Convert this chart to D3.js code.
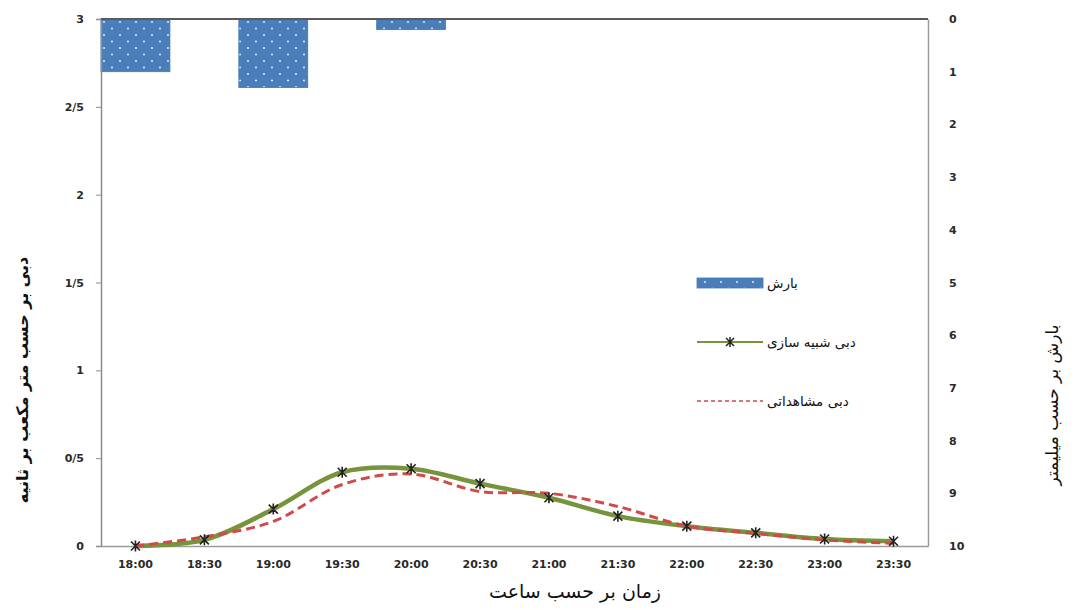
<!DOCTYPE html>
<html>
<head>
<meta charset="utf-8">
<script src="https://cdn.jsdelivr.net/npm/d3@7"></script>
<style>
  body { margin: 0; background: #fff; }
  svg { display: block; font-family: "DejaVu Sans", sans-serif; }
</style>
</head>
<body>
<svg id="canvas" width="1081" height="610"></svg>
<script>
// data
const times = ["18:00", "18:30", "19:00", "19:30", "20:00", "20:30", "21:00", "21:30", "22:00", "22:30", "23:00", "23:30"];
const simulated = [0, 0.035, 0.21, 0.42, 0.44, 0.355, 0.275, 0.17, 0.113, 0.075, 0.04, 0.027];
const observed = [0, 0.052, 0.14, 0.35, 0.41, 0.31, 0.3, 0.225, 0.113, 0.072, 0.035, 0.015];
const rainTimes = ["18:00", "19:00", "20:00"];
const rain = [1.0, 1.3, 0.2];
const flowTicks = [0, 0.5, 1, 1.5, 2, 2.5, 3];
const flowTickLabels = ["0", "0/5", "1", "1/5", "2", "2/5", "3"];
const rainTicks = [0, 1, 2, 3, 4, 5, 6, 7, 8, 9, 10];

const legendLabels = ["بارش", "دبی شبیه سازی", "دبی مشاهداتی"];
const xTitle = "زمان بر حسب ساعت";
const yTitle = "دبی بر حسب متر مکعب بر ثانیه";
const y2Title = "بارش بر حسب میلیمتر";

const svg = d3.select("svg#canvas");
const plot = { left: 101, right: 928, top: 19, bottom: 546 };

const x = d3.scaleBand().domain(times).range([plot.left, plot.right]).padding(0);
const y = d3.scaleLinear().domain([0, 3]).range([plot.bottom, plot.top]);
const y2 = d3.scaleLinear().domain([0, 10]).range([plot.top, plot.bottom]);
const cx = (t) => x(t) + x.bandwidth() / 2;

// dotted fill for rain bars
const defs = svg.append("defs");
const pat = defs.append("pattern")
  .attr("id", "dots")
  .attr("patternUnits", "userSpaceOnUse")
  .attr("width", 16)
  .attr("height", 13)
  .attr("x", plot.left)
  .attr("y", plot.top);
pat.append("rect").attr("width", 16).attr("height", 13).attr("fill", "#4a7ebb");
pat.append("circle").attr("cx", 3).attr("cy", 3).attr("r", 1.1).attr("fill", "#d6e1f0");
pat.append("circle").attr("cx", 11).attr("cy", 9.5).attr("r", 1.1).attr("fill", "#d6e1f0");

// rain bars hanging from the top
svg.append("g")
  .selectAll("rect")
  .data(rainTimes)
  .enter()
  .append("rect")
  .attr("x", (d) => x(d))
  .attr("y", y2(0))
  .attr("width", x.bandwidth())
  .attr("height", (d, i) => y2(rain[i]) - y2(0))
  .attr("fill", "url(#dots)")
  .attr("stroke", "#4577b5")
  .attr("stroke-width", 0.8);

// axes
const yAxis = svg.append("g")
  .attr("transform", `translate(${plot.left},0)`)
  .call(d3.axisLeft(y).tickValues(flowTicks).tickSize(5).tickPadding(12)
    .tickFormat((d, i) => flowTickLabels[i]));
yAxis.select(".domain").attr("stroke", "#8c8c8c").attr("stroke-width", 1.5);
yAxis.selectAll(".tick line").attr("stroke", "#8c8c8c");

const y2Axis = svg.append("g")
  .attr("transform", `translate(${plot.right},0)`)
  .call(d3.axisRight(y2).tickValues(rainTicks).tickSize(0).tickPadding(21));
y2Axis.select(".domain").attr("stroke", "#9a9a9a").attr("stroke-width", 1.5);

const xAxis = svg.append("g")
  .attr("transform", `translate(0,${plot.bottom})`)
  .call(d3.axisBottom(x).tickSize(0).tickPadding(14));
xAxis.select(".domain").attr("stroke", "#9a9a9a").attr("stroke-width", 1.5);

svg.selectAll(".tick text")
  .attr("font-size", 11)
  .attr("font-weight", "bold")
  .attr("font-family", "DejaVu Sans, sans-serif")
  .attr("fill", "#2a2a2a");

// dark top line (secondary category axis)
svg.append("line")
  .attr("x1", plot.left).attr("x2", plot.right)
  .attr("y1", plot.top).attr("y2", plot.top)
  .attr("stroke", "#5a5a5a").attr("stroke-width", 2);

// flow lines
const line = d3.line()
  .x((d, i) => cx(times[i]))
  .y((d) => y(d))
  .curve(d3.curveCatmullRom.alpha(0.5));

svg.append("path")
  .datum(simulated)
  .attr("d", line)
  .attr("fill", "none")
  .attr("stroke", "#77933c")
  .attr("stroke-width", 4.5);

svg.append("path")
  .datum(observed)
  .attr("d", line)
  .attr("fill", "none")
  .attr("stroke", "#d04a4a")
  .attr("stroke-width", 3)
  .attr("stroke-dasharray", "9,5");

// star markers
const star = (s) => `M${-s},${-s}L${s},${s}M${-s},${s}L${s},${-s}M0,${-s - 1}L0,${s + 1}`;
svg.append("g")
  .selectAll("path")
  .data(simulated)
  .enter()
  .append("path")
  .attr("transform", (d, i) => `translate(${cx(times[i])},${y(d)})`)
  .attr("d", star(4.5))
  .attr("stroke", "#222")
  .attr("stroke-width", 1.6)
  .attr("fill", "none");

// legend
const lg = svg.append("g").attr("transform", "translate(697,0)");
lg.append("rect").attr("x", 0).attr("y", 278).attr("width", 66).attr("height", 10)
  .attr("fill", "url(#dots)").attr("stroke", "#4577b5").attr("stroke-width", 0.8);
lg.append("line").attr("x1", 0).attr("x2", 66).attr("y1", 342).attr("y2", 342)
  .attr("stroke", "#77933c").attr("stroke-width", 2);
lg.append("path").attr("transform", "translate(33,342)").attr("d", star(4))
  .attr("stroke", "#222").attr("stroke-width", 1.5).attr("fill", "none");
lg.append("line").attr("x1", 0).attr("x2", 66).attr("y1", 401).attr("y2", 401)
  .attr("stroke", "#d04a4a").attr("stroke-width", 1.5).attr("stroke-dasharray", "4,3");

lg.selectAll("text")
  .data(legendLabels)
  .enter()
  .append("text")
  .attr("x", 70)
  .attr("y", (d, i) => [288, 347, 406][i])
  .attr("direction", "rtl")
  .attr("text-anchor", "end")
  .attr("font-size", 13.5)
  .attr("fill", "#111")
  .text((d) => d);

// axis titles
svg.append("text")
  .attr("x", 575).attr("y", 598)
  .attr("text-anchor", "middle")
  .attr("direction", "rtl")
  .attr("font-size", 19)
  .attr("fill", "#111")
  .text(xTitle);

svg.append("text")
  .attr("transform", "translate(28,380) rotate(-90)")
  .attr("text-anchor", "middle")
  .attr("direction", "rtl")
  .attr("font-size", 16)
  .attr("font-weight", "bold")
  .attr("fill", "#111")
  .text(yTitle);

svg.append("text")
  .attr("transform", "translate(1058,405) rotate(-90)")
  .attr("text-anchor", "middle")
  .attr("direction", "rtl")
  .attr("font-size", 17)
  .attr("fill", "#111")
  .text(y2Title);
</script>
</body>
</html>
